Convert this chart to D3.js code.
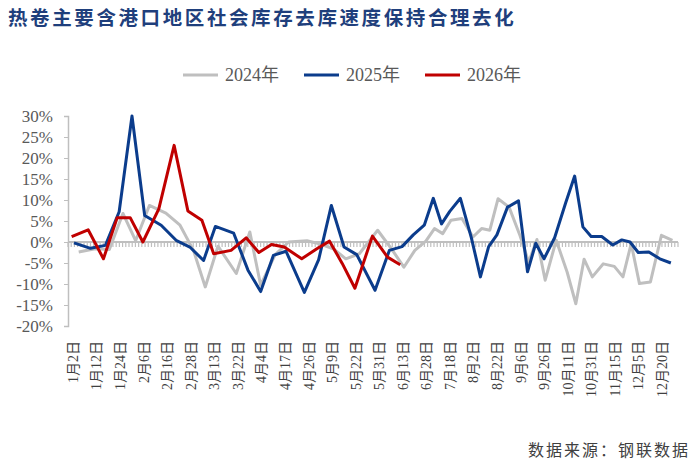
<!doctype html>
<html>
  <head>
    <meta charset="utf-8">
    <script src="https://cdnjs.cloudflare.com/ajax/libs/d3/7.8.5/d3.min.js"></script>
    <style>
      body { margin: 0; background: #fff; }
      svg { display: block; }
      text { font-family: "Liberation Serif", "Noto Sans CJK SC", serif; }
      .title { font-family: "Noto Sans CJK SC", sans-serif; font-weight: bold; }
    </style>
  </head>
  <body>
    <svg id="chart" width="700" height="466"></svg>
    <script>
      // category labels on the x axis
      var tickLabels = ["1月2日","1月12日","1月24日","2月6日","2月16日","2月28日","3月13日","3月22日",
        "4月4日","4月17日","4月26日","5月9日","5月22日","5月31日","6月13日","6月28日","7月18日",
        "8月2日","8月22日","9月6日","9月26日","10月11日","10月31日","11月15日","12月5日","12月20日"];
      var yTicks = [-20, -15, -10, -5, 0, 5, 10, 15, 20, 25, 30];

      var dates2024 = ["1/4","1/11","1/18","1/25","2/1","2/8","2/15","2/22","2/29","3/7","3/14","3/21","3/28",
        "4/3","4/11","4/18","4/25","5/2","5/9","5/16","5/23","5/30","6/6","6/13","6/20","6/27","7/4","7/11",
        "7/18","7/25","8/1","8/8","8/15","8/22","8/29","9/5","9/12","9/19","9/26","10/3","10/10","10/17",
        "10/24","10/31","11/7","11/14","11/21","11/28","12/5","12/12","12/19","12/26"];
      var values2024 = [-2.4,-1.6,-1.8,6.8,0.3,8.7,6.9,4,-2,-10.7,-1,-7.5,2.4,
        -10.3,-3,0,0.3,-0.5,-1.6,-4,-2.8,2.8,-1.5,-6,-2,0.2,3.2,2,
        5.2,5.6,1.2,3.2,2.8,10.3,8.3,1.5,-4.8,0.6,-9.1,0.4,-7.2,-14.7,
        -4.1,-8.3,-5.2,-5.8,-8.3,-0.4,-9.9,-9.5,1.6,0.4];

      var dates2025 = ["1/2","1/9","1/16","1/23","1/30","2/6","2/13","2/20","2/27","3/6","3/13","3/20","3/27",
        "4/3","4/10","4/17","4/24","5/1","5/8","5/15","5/22","5/29","6/5","6/12","6/19","6/26","7/3","7/10",
        "7/17","7/24","7/31","8/7","8/14","8/21","8/28","9/4","9/11","9/18","9/25","10/2","10/9","10/16",
        "10/23","10/30","11/6","11/13","11/20","11/27","12/4","12/11","12/18","12/25"];
      var values2025 = [-0.2,-1.5,-0.8,7.2,30,6.3,4,0.4,-1.2,-4.4,3.7,2.1,-6.7,
        -11.8,-3.2,-2.2,-12,-4.2,8.7,-1.2,-3,-11.5,-2,-1.1,1.7,4,10.4,4.3,
        7.3,10.4,1,-8.3,-1.1,1.7,8.3,9.8,-7.1,-0.3,-4,1,9.3,15.7,
        3.6,1.3,1.3,-0.7,0.5,0,-2.5,-2.4,-4,-5];

      var dates2026 = ["1/1","1/8","1/15","1/22","1/29","2/5","2/12","2/19","2/26","3/5","3/12","3/19","3/26",
        "4/2","4/9","4/16","4/23","4/30","5/7","5/14","5/21","5/28","6/4","6/11"];
      var values2026 = [1.3,2.9,-4,5.8,5.8,0,7.9,23,7.4,5.2,-2.8,-2,1,
        -2.5,-0.6,-1.2,-4,-1.6,0.2,-5.1,-11,1.4,-3.6,-5.4];

      var seriesNames = ["2024年","2025年","2026年"];
      var seriesColors = ["#BFBFBF","#0B3C8C","#C00000"];

      // month/day strings -> Date in a leap reference year
      function md(s) {
        var m = s.match(/(\d+)\D+(\d+)/);
        return new Date(2000, +m[1] - 1, +m[2]);
      }

      var series = [
        { name: seriesNames[0], color: seriesColors[0], points: dates2024.map((d,i) => ({ date: md(d), value: values2024[i] })) },
        { name: seriesNames[1], color: seriesColors[1], points: dates2025.map((d,i) => ({ date: md(d), value: values2025[i] })) },
        { name: seriesNames[2], color: seriesColors[2], points: dates2026.map((d,i) => ({ date: md(d), value: values2026[i] })) }
      ];

      var svg = d3.select("svg#chart");

      // category axis: the labels are evenly spaced, dates in between are piecewise
      var labelDates = tickLabels.map(md);
      var labelStep = 23.56, labelX0 = 74;
      var x = d3.scaleTime()
        .domain(labelDates)
        .range(labelDates.map((d,i) => labelX0 + i * labelStep));

      var y = d3.scaleLinear().domain([-20, 30]).range([326, 116]);

      var axisLeft = 68, axisRight = 678;

      // title
      svg.append("text")
        .attr("class", "title")
        .attr("x", 8).attr("y", 25)
        .attr("fill", "#1F3F7C")
        .style("font-size", "19.5px")
        .style("letter-spacing", "2.6px")
        .text("热卷主要含港口地区社会库存去库速度保持合理去化");

      // legend
      var legend = svg.selectAll("g.legend")
        .data(series)
        .enter()
        .append("g")
        .attr("class", "legend")
        .attr("transform", (d,i) => "translate(" + (183 + i * 121) + ",75)");
      legend.append("line")
        .attr("x1", 0).attr("x2", 35)
        .attr("stroke", d => d.color)
        .attr("stroke-width", 3);
      legend.append("text")
        .attr("x", 42).attr("dy", "0.35em")
        .attr("fill", "#595959")
        .style("font-size", "18px")
        .text(d => d.name);

      // y axis
      var yAxis = svg.append("g")
        .attr("transform", "translate(" + axisLeft + ",0)")
        .call(d3.axisLeft(y).tickValues(yTicks).tickSize(4).tickPadding(11).tickFormat(d => d + "%"));
      yAxis.select(".domain").attr("stroke", "#BFBFBF").attr("stroke-width", 1.5);
      yAxis.selectAll(".tick line").attr("stroke", "#BFBFBF");
      yAxis.selectAll(".tick text")
        .attr("fill", "#595959")
        .style("font-size", "17px")
        .style("font-family", "Liberation Serif");

      // x axis at zero with dense minor ticks
      var nMinor = 190;
      var minor = d3.scaleLinear().domain([0, nMinor]).range([axisLeft, axisRight]);
      svg.append("g")
        .selectAll("line")
        .data(d3.range(nMinor + 1))
        .enter()
        .append("line")
        .attr("x1", d => minor(d)).attr("x2", d => minor(d))
        .attr("y1", y(0)).attr("y2", y(0) + 5)
        .attr("stroke", "#BFBFBF")
        .attr("stroke-width", 1.2);
      svg.append("line")
        .attr("x1", axisLeft).attr("x2", axisRight)
        .attr("y1", y(0)).attr("y2", y(0))
        .attr("stroke", "#BFBFBF")
        .attr("stroke-width", 2);

      // rotated category labels
      svg.append("g")
        .selectAll("text")
        .data(tickLabels)
        .enter()
        .append("text")
        .attr("transform", (d,i) => "translate(" + (x(labelDates[i]) - 1) + ",341) rotate(-90)")
        .attr("text-anchor", "end")
        .attr("dy", "0.35em")
        .attr("fill", "#404040")
        .style("font-size", "14px")
        .text(d => d);

      // lines
      var line = d3.line()
        .x(d => x(d.date))
        .y(d => y(d.value));

      svg.append("g")
        .selectAll("path")
        .data(series)
        .enter()
        .append("path")
        .attr("d", d => line(d.points))
        .attr("fill", "none")
        .attr("stroke", d => d.color)
        .attr("stroke-width", 3)
        .attr("stroke-linejoin", "round");

      // source note
      svg.append("text")
        .attr("x", 690).attr("y", 456)
        .attr("text-anchor", "end")
        .attr("fill", "#404040")
        .style("font-size", "16px")
        .style("letter-spacing", "2px")
        .text("数据来源：钢联数据");
    </script>
  </body>
</html>
